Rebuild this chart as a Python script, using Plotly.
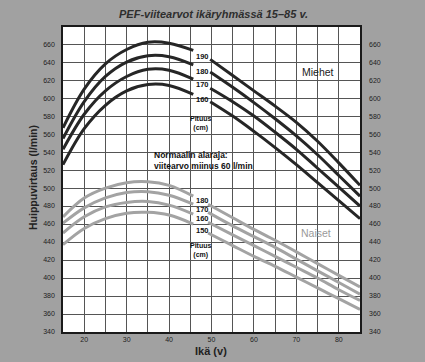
import plotly.graph_objects as go

# ---------------- data ----------------
ages_left = [15, 20, 25, 30, 35, 40, 45.7]
men_ages_right = [49.7, 55, 60, 65, 70, 75, 80, 85]
women_ages_right = [49.2, 55, 60, 65, 70, 75, 80, 85]

men_heights = ["190", "180", "170", "160"]
men_left = {
    "190": [567, 610, 638, 654, 662, 661, 653],
    "180": [555, 596, 624, 640, 647, 646, 637],
    "170": [543, 582, 608, 624, 632, 631, 621],
    "160": [526, 566, 592, 608, 615, 614, 604],
}
men_right = {
    "190": [643, 625, 608, 591, 573, 552, 528, 503],
    "180": [629, 612, 595, 577, 558, 537, 514, 491],
    "170": [611, 596, 580, 562, 543, 522, 501, 480],
    "160": [596, 580, 563, 545, 526, 506, 486, 466],
}

women_heights = ["180", "170", "160", "150"]
women_left = {
    "180": [468, 489, 500, 506, 507, 503, 491],
    "170": [461, 478, 489, 495, 496, 492, 482],
    "160": [450, 468, 479, 484, 485, 481, 471],
    "150": [437, 455, 466, 472, 473, 470, 460],
}
women_right = {
    "180": [482, 467, 454, 442, 429, 416, 403, 390],
    "170": [473, 458, 446, 434, 421, 408, 395, 382],
    "160": [462, 448, 436, 424, 412, 400, 387, 375],
    "150": [450, 436, 424, 413, 401, 389, 377, 365],
}

x_tick_vals = list(range(15, 86, 5))
x_tick_text = ["" if v % 10 else str(v) for v in x_tick_vals]
y_tick_vals = list(range(340, 661, 20))
y_tick_text = [str(v) for v in y_tick_vals]

# label positions (age, value)
men_label_y = {"190": 646, "180": 630, "170": 615, "160": 598}
women_label_y = {"180": 486, "170": 476, "160": 466, "150": 453}

title = "PEF-viitearvot ikäryhmässä 15–85 v."

# ---------------- figure ----------------
MEN_C = "#262626"
WOMEN_C = "#a3a3a3"
FONT = "Liberation Sans"
W, H = 425, 362
ML, MR, MT, MB = 63, 65, 27, 30

fig = go.Figure()
for h in men_heights:
    fig.add_trace(go.Scatter(x=ages_left, y=men_left[h], mode="lines",
                             line=dict(color=MEN_C, width=3, shape="spline"),
                             showlegend=False, hoverinfo="skip"))
    fig.add_trace(go.Scatter(x=men_ages_right, y=men_right[h], mode="lines",
                             line=dict(color=MEN_C, width=3, shape="spline"),
                             showlegend=False, hoverinfo="skip"))
for h in women_heights:
    fig.add_trace(go.Scatter(x=ages_left, y=women_left[h], mode="lines",
                             line=dict(color=WOMEN_C, width=3, shape="spline"),
                             showlegend=False, hoverinfo="skip"))
    fig.add_trace(go.Scatter(x=women_ages_right, y=women_right[h], mode="lines",
                             line=dict(color=WOMEN_C, width=3, shape="spline"),
                             showlegend=False, hoverinfo="skip"))
# invisible trace for right axis
fig.add_trace(go.Scatter(x=[15], y=[340], yaxis="y2", mode="markers",
                         marker=dict(opacity=0), showlegend=False, hoverinfo="skip"))


def px_to_paper(px, py):
    return (px - ML) / (W - ML - MR), (H - MB - py) / (H - MT - MB)


ann = []
lab_font = dict(family=FONT, size=7.5, color="#111111")
for h in men_heights:
    ann.append(dict(x=47.8, y=men_label_y[h], text="<b>%s</b>" % h, showarrow=False,
                    xref="x", yref="y", font=lab_font))
for h in women_heights:
    ann.append(dict(x=47.8, y=women_label_y[h], text="<b>%s</b>" % h, showarrow=False,
                    xref="x", yref="y", font=lab_font))
small_font = dict(family=FONT, size=7, color="#111111")
ann.append(dict(x=47.5, y=572, text="<b>Pituus<br>(cm)</b>", showarrow=False,
                xref="x", yref="y", font=small_font))
ann.append(dict(x=47.5, y=431, text="<b>Pituus<br>(cm)</b>", showarrow=False,
                xref="x", yref="y", font=small_font))
ann.append(dict(x=35.9, y=530.5, text="<b>Normaalin alaraja:<br>viitearvo miinus 60 l/min</b>",
                showarrow=False, xref="x", yref="y", xanchor="left", align="left",
                font=dict(family=FONT, size=8.5, color="#111111")))
ann.append(dict(x=75, y=629.5, text="Miehet", showarrow=False, xref="x", yref="y",
                font=dict(family=FONT, size=10.5, color="#222222")))
ann.append(dict(x=74.7, y=450, text="Naiset", showarrow=False, xref="x", yref="y",
                font=dict(family=FONT, size=10.5, color="#9a9a9a")))

tx, ty = px_to_paper(213, 14)
ann.append(dict(x=tx, y=ty, text="<b><i>%s</i></b>" % title, showarrow=False,
                xref="paper", yref="paper", xanchor="center", yanchor="middle",
                font=dict(family=FONT, size=11, color="#2e2e2e")))
ax_, ay_ = px_to_paper(211, 351)
ann.append(dict(x=ax_, y=ay_, text="<b>Ikä (v)</b>", showarrow=False,
                xref="paper", yref="paper", xanchor="center", yanchor="middle",
                font=dict(family=FONT, size=11, color="#222222")))
yx, yy = px_to_paper(33, 178)
ann.append(dict(x=yx, y=yy, text="<b>Huippuvirtaus (l/min)</b>", showarrow=False,
                xref="paper", yref="paper", xanchor="center", yanchor="middle", textangle=-90,
                font=dict(family=FONT, size=10.5, color="#222222")))

tick_font = dict(family=FONT, size=7, color="#222222")
fig.update_layout(
    width=W, height=H,
    margin=dict(l=ML, r=MR, t=MT, b=MB),
    paper_bgcolor="#a1a1a1",
    plot_bgcolor="#ffffff",
    xaxis=dict(range=[15, 85], tickvals=x_tick_vals, ticktext=x_tick_text,
               showgrid=True, gridcolor="#555555", gridwidth=1.2,
               showline=True, linecolor="#1a1a1a", linewidth=1.5, mirror=True,
               ticks="", tickfont=tick_font, zeroline=False),
    yaxis=dict(range=[340, 679], tickvals=y_tick_vals, ticktext=y_tick_text,
               showgrid=True, gridcolor="#555555", gridwidth=1.2,
               showline=True, linecolor="#1a1a1a", linewidth=1.5, mirror=True,
               ticks="", tickfont=tick_font, zeroline=False, ticklabelstandoff=5),
    yaxis2=dict(range=[340, 679], tickvals=y_tick_vals, ticktext=y_tick_text,
                overlaying="y", side="right", showgrid=False, zeroline=False,
                ticks="", tickfont=tick_font, ticklabelstandoff=8, showline=False),
    annotations=ann,
)

fig.write_html("out.html", config={"displayModeBar": False},
               post_script="document.body.style.margin='0';document.body.style.padding='0';"
                           "document.body.style.overflow='hidden';")
